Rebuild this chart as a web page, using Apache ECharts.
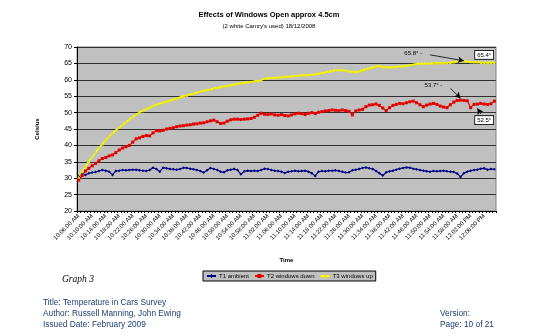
<!DOCTYPE html>
<html>
<head>
<meta charset="utf-8">
<script src="https://cdn.jsdelivr.net/npm/echarts@6/dist/echarts.min.js"></script>
<style>
html,body{margin:0;padding:0;background:#fff;}
#c{width:540px;height:336px;}
</style>
</head>
<body>
<div id="c"></div>
<script>
// ---- data ----
const startTime = '10:06:00 AM';
const seriesNames = ['T1 ambient', 'T2 windows down', 'T3 windows up'];
const T1 = [30.5,31.3,31.0,31.5,31.7,31.9,32.2,32.5,32.3,32.0,31.0,32.2,32.3,32.5,32.4,32.5,32.6,32.6,32.4,32.3,
32.2,32.5,33.2,32.8,32.0,33.2,33.0,32.8,32.7,32.6,32.8,33.2,33.1,32.9,32.7,32.5,32.2,31.7,32.4,33.1,
32.8,32.5,32.0,31.8,32.4,32.6,32.8,32.5,31.2,32.1,32.3,32.2,32.3,32.2,32.5,32.9,32.8,32.5,32.3,32.2,
32.0,31.6,32.0,32.1,32.3,32.1,32.2,32.3,32.0,31.5,30.7,32.0,32.2,32.1,32.3,32.3,32.4,32.2,32.0,31.7,
31.8,32.4,32.6,32.8,33.1,33.3,33.0,32.8,32.2,31.5,30.8,31.8,32.1,32.3,32.6,32.9,33.1,33.3,33.2,32.9,
32.7,32.5,32.3,32.1,32.0,32.2,32.1,32.2,32.3,32.1,32.0,31.9,31.4,30.4,31.5,32.0,32.3,32.5,32.6,32.9,
33.0,32.6,32.8,32.7];
const T2 = [29.4,30.8,32.2,33.0,33.8,34.5,35.3,36.0,36.3,36.8,37.1,37.8,38.6,39.2,39.6,40.0,41.0,42.0,42.3,42.7,
43.0,42.9,43.8,44.5,44.4,44.6,45.0,45.2,45.4,45.7,45.9,46.0,46.2,46.3,46.5,46.6,46.8,46.9,47.2,47.5,
47.7,47.2,46.7,46.8,47.4,47.8,48.0,48.0,47.9,48.0,48.1,48.2,48.6,49.2,49.8,49.5,49.4,49.6,49.3,49.2,
49.4,49.1,49.0,49.3,49.6,49.8,49.7,49.4,49.8,50.0,49.7,50.1,50.3,50.5,50.6,50.8,50.7,50.6,50.8,50.6,
50.4,49.3,50.5,50.8,51.0,51.8,52.3,52.4,52.6,52.2,51.4,50.6,51.5,52.2,52.5,52.8,52.7,53.0,53.3,53.5,
53.0,52.4,51.8,52.3,52.6,52.8,52.5,52.0,51.7,51.5,52.4,53.2,53.7,53.8,53.7,53.6,51.5,52.5,52.6,52.8,
52.6,52.5,52.7,53.5];
const T3 = [30.3,32.0,33.6,35.1,36.5,37.8,39.2,40.4,41.6,42.7,43.7,44.6,45.5,46.3,47.1,47.9,48.6,49.4,50.1,50.6,
51.1,51.6,52.0,52.4,52.8,53.1,53.4,53.7,54.0,54.4,54.7,55.0,55.3,55.6,55.8,56.1,56.4,56.7,56.9,57.1,
57.4,57.6,57.8,58.0,58.2,58.4,58.6,58.8,59.0,59.2,59.3,59.4,59.6,59.7,59.8,60.5,60.5,60.6,60.6,60.7,
60.8,60.9,61.0,61.1,61.2,61.3,61.4,61.5,61.5,61.6,61.7,61.9,62.1,62.3,62.5,62.7,62.9,63.0,63.0,62.8,
62.6,62.5,62.3,62.6,62.9,63.2,63.5,63.8,64.1,64.2,64.0,63.9,63.8,63.9,64.0,64.1,64.1,64.3,64.5,64.7,
64.9,65.0,65.0,65.0,65.0,65.1,65.1,65.1,65.1,65.2,65.3,65.4,65.6,65.7,65.8,65.6,65.5,65.4,65.4,65.3,
65.3,65.2,65.3,65.3];
const yTicks = {min: 20, max: 70, step: 5};
// annotation texts (anchored in data space: category index, value)
const noteTexts = ['65.8° -', '65.4°', '53.7° -', '52.5°'];
const noteAnchors = [[99, 68.1], [120, 67.6], [105, 58.4], [120, 47.7]];
const arrowFrom = [[104, 67.6], [110, 57.4], [119, 49.6]];
const arrowTo = [[114, 65.8], [113, 54.4], [118, 51.3]];

// ---- categories: one per minute ----
function makeCats(n) {
  const m = startTime.match(/(\d+):(\d+):00 (AM|PM)/);
  let mins = (parseInt(m[1]) % 12 + (m[3] === 'PM' ? 12 : 0)) * 60 + parseInt(m[2]);
  const out = [];
  for (let i = 0; i < n; i++) {
    const t = mins + i;
    let h = Math.floor(t / 60), mm = t % 60;
    const ap = h >= 12 ? 'PM' : 'AM';
    let h12 = h % 12; if (h12 === 0) h12 = 12;
    out.push(h12 + ':' + String(mm).padStart(2, '0') + ':00 ' + ap);
  }
  return out;
}
const categories = makeCats(T1.length);

const FONT = '"Liberation Sans", Arial, sans-serif';
const chart = echarts.init(document.getElementById('c'), null, {renderer: 'canvas'});

const cat = i => categories[i];
const noteLabel = (i, boxed) => ({
  coord: [cat(noteAnchors[i][0]), noteAnchors[i][1]],
  value: noteTexts[i],
  symbol: 'rect', symbolSize: 1,
  itemStyle: {color: 'rgba(0,0,0,0)'},
  label: {
    show: true, position: 'inside', formatter: noteTexts[i],
    color: '#000', fontSize: 6, fontFamily: FONT,
    backgroundColor: boxed ? '#fff' : 'transparent',
    borderColor: boxed ? '#000' : 'transparent', borderWidth: boxed ? 0.8 : 0,
    padding: boxed ? [1, 2, 1, 2] : 0
  }
});
const arrows = arrowFrom.map((a, k) => [
  {coord: [cat(a[0]), a[1]], symbol: 'none'},
  {coord: [cat(arrowTo[k][0]), arrowTo[k][1]], symbol: 'arrow', symbolSize: [5, 6]}
]);

chart.setOption({
  animation: false,
  backgroundColor: '#fff',
  title: [
    {text: 'Effects of Windows Open approx 4.5cm', left: 264, top: 6, textAlign: 'center',
     textStyle: {fontSize: 7.5, fontWeight: 'bold', color: '#000', fontFamily: FONT}},
    {text: "(2 white Camry's used) 18/12/2008", left: 264, top: 18, textAlign: 'center',
     textStyle: {fontSize: 6, fontWeight: 'normal', color: '#000', fontFamily: FONT}}
  ],
  legend: {
    data: seriesNames,
    left: 203, top: 271,
    backgroundColor: '#c0c0c0', borderColor: '#000', borderWidth: 1,
    padding: [2, 3, 2, 3],
    itemWidth: 9, itemHeight: 5, itemGap: 5,
    textStyle: {fontSize: 6, color: '#000', fontFamily: FONT, padding: [0, 0, 0, -2]}
  },
  grid: {left: 77, right: 44, top: 47, bottom: 125, show: true,
         backgroundColor: '#c0c0c0', borderColor: '#808080', borderWidth: 1},
  xAxis: {
    type: 'category', data: categories, boundaryGap: true,
    name: 'Time', nameLocation: 'middle', nameGap: 46,
    nameTextStyle: {fontSize: 6, fontWeight: 'bold', color: '#000', fontFamily: FONT},
    axisLine: {lineStyle: {color: '#000', width: 1}},
    axisTick: {show: true, interval: 0, length: 2, lineStyle: {color: '#000'}},
    axisLabel: {interval: 3, rotate: 45, fontSize: 6, color: '#000', fontFamily: FONT, margin: 4},
    splitLine: {show: false}
  },
  yAxis: {
    type: 'value', min: yTicks.min, max: yTicks.max, interval: yTicks.step,
    name: 'Celsius', nameLocation: 'middle', nameGap: 37, nameRotate: 90,
    nameTextStyle: {fontSize: 6, fontWeight: 'bold', color: '#000', fontFamily: FONT},
    axisLine: {show: true, lineStyle: {color: '#000', width: 1}},
    axisTick: {show: true, length: 3, lineStyle: {color: '#000'}},
    axisLabel: {fontSize: 7, color: '#000', fontFamily: FONT, margin: 5},
    splitLine: {show: true, lineStyle: {color: '#303030', width: 1}}
  },
  series: [
    {name: seriesNames[0], type: 'line', data: T1, color: '#000080',
     symbol: 'diamond', symbolSize: 3, showSymbol: true, showAllSymbol: true,
     lineStyle: {width: 1.2, color: '#000080'}, itemStyle: {color: '#000080'}},
    {name: seriesNames[1], type: 'line', data: T2, color: '#ff0000',
     symbol: 'rect', symbolSize: 3, showSymbol: true, showAllSymbol: true,
     lineStyle: {width: 1.2, color: '#ff0000'}, itemStyle: {color: '#e00000'},
     markLine: {silent: true, symbol: ['none', 'arrow'], label: {show: false},
       lineStyle: {color: '#000', width: 0.8, type: 'solid'}, data: arrows.slice(1)},
     markPoint: {silent: true, data: [noteLabel(2, false), noteLabel(3, true)]}},
    {name: seriesNames[2], type: 'line', data: T3, color: '#ffff00',
     symbol: 'triangle', symbolSize: 3, showSymbol: true, showAllSymbol: true,
     lineStyle: {width: 1.5, color: '#ffff00'}, itemStyle: {color: '#e8e800'},
     markLine: {silent: true, symbol: ['none', 'arrow'], label: {show: false},
       lineStyle: {color: '#000', width: 0.8, type: 'solid'}, data: arrows.slice(0, 1)},
     markPoint: {silent: true, data: [noteLabel(0, false), noteLabel(1, true)]}}
  ],
  graphic: [
    {type: 'text', left: 62, top: 274, style: {text: 'Graph 3', fontSize: 9.5, fontStyle: 'italic',
      fontFamily: '"Liberation Serif", "Times New Roman", serif', fill: '#000'}},
    {type: 'text', left: 43, top: 299, style: {text: 'Title: Temperature in Cars Survey', fontSize: 8.3, fontFamily: FONT, fill: '#1f3d75'}},
    {type: 'text', left: 43, top: 310, style: {text: 'Author: Russell Manning, John Ewing', fontSize: 8.3, fontFamily: FONT, fill: '#1f3d75'}},
    {type: 'text', left: 43, top: 321, style: {text: 'Issued Date: February 2009', fontSize: 8.3, fontFamily: FONT, fill: '#1f3d75'}},
    {type: 'text', left: 440, top: 310, style: {text: 'Version:', fontSize: 8.3, fontFamily: FONT, fill: '#1f3d75'}},
    {type: 'text', left: 440, top: 321, style: {text: 'Page: 10 of 21', fontSize: 8.3, fontFamily: FONT, fill: '#1f3d75'}}
  ]
});
</script>
</body>
</html>
